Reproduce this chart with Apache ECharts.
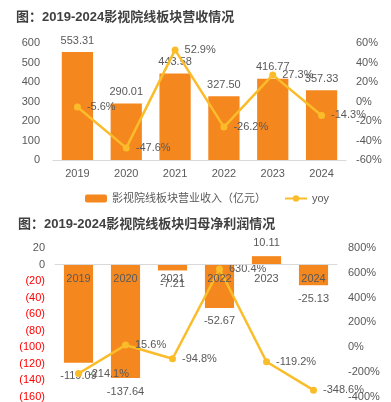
<!DOCTYPE html>
<html>
<head>
<meta charset="utf-8">
<script src="https://cdn.jsdelivr.net/npm/echarts@6/dist/echarts.min.js"></script>
<style>
    html, body { margin: 0; padding: 0; background: #fff; }
    #chart { width: 391px; height: 402px; }
</style>
</head>
<body>
<div id="chart"></div>
<script>
    var years = ['2019', '2020', '2021', '2022', '2023', '2024'];
    var revenue = [553.31, 290.01, 443.58, 327.50, 416.77, 357.33];
    var revenueYoy = [-5.6, -47.6, 52.9, -26.2, 27.3, -14.3];
    var profit = [-119.09, -137.64, -7.21, -52.67, 10.11, -25.13];
    var profitYoy = [-214.1, 15.6, -94.8, 630.4, -119.2, -348.6];

    var barColor = '#F5871F';
    var lineColor = '#FBBC2A';
    var textColor = '#595959';
    var font = '"Liberation Sans", Arial, "Noto Sans CJK SC", sans-serif';

    // 下图网格：0 线位置
    var g2Top = 248, g2Height = 149;
    var zeroOffset = g2Height * 160 / 180;

    var chart = echarts.init(document.getElementById('chart'));

    function barData(arr) {
        return arr.map(function (v) {
            return {
                value: v,
                label: { position: v < 0 ? 'bottom' : 'top' }
            };
        });
    }

    var option = {
        animation: false,
        textStyle: { fontFamily: font },
        title: [
            {
                text: '图：2019-2024影视院线板块营收情况',
                left: 11, top: 6,
                textStyle: { fontSize: 13, fontWeight: 'bold', color: '#404040', fontFamily: font }
            },
            {
                text: '图：2019-2024影视院线板块归母净利润情况',
                left: 13, top: 213,
                textStyle: { fontSize: 13, fontWeight: 'bold', color: '#404040', fontFamily: font }
            }
        ],
        legend: {
            top: 188,
            left: 80,
            itemGap: 18,
            itemWidth: 22,
            itemHeight: 8,
            textStyle: { fontSize: 11, color: textColor, fontFamily: font },
            data: ['影视院线板块营业收入（亿元）', 'yoy']
        },
        grid: [
            { left: 53, right: 45, top: 43, height: 117 },
            { left: 55, right: 54, top: g2Top, height: g2Height }
        ],
        xAxis: [
            {
                type: 'category', gridIndex: 0, data: years,
                axisLine: { lineStyle: { color: '#D9D9D9' } },
                axisTick: { show: false },
                axisLabel: { fontSize: 11, color: textColor, margin: 8 }
            },
            {
                type: 'category', gridIndex: 1, data: years,
                position: 'bottom',
                offset: -zeroOffset,
                z: 10,
                axisLine: { onZero: false, lineStyle: { color: '#D9D9D9' } },
                axisTick: { show: false },
                axisLabel: { fontSize: 11, color: textColor, margin: 9 }
            }
        ],
        yAxis: [
            {
                type: 'value', gridIndex: 0, min: 0, max: 600, interval: 100,
                splitLine: { show: false },
                axisLabel: { fontSize: 11, color: textColor, margin: 13 }
            },
            {
                type: 'value', gridIndex: 0, min: -60, max: 60, interval: 20,
                splitLine: { show: false },
                axisLabel: { fontSize: 11, color: textColor, margin: 10, formatter: '{value}%' }
            },
            {
                type: 'value', gridIndex: 1, min: -160, max: 20, interval: 20,
                splitLine: { show: false },
                axisLabel: {
                    fontSize: 11, margin: 10,
                    formatter: function (v) { return v < 0 ? '(' + (-v) + ')' : v; },
                    color: function (v) { return v < 0 ? '#FF0000' : textColor; }
                }
            },
            {
                type: 'value', gridIndex: 1, min: -400, max: 800, interval: 200,
                splitLine: { show: false },
                axisLabel: { fontSize: 11, color: textColor, margin: 11, formatter: '{value}%' }
            }
        ],
        series: [
            {
                name: '影视院线板块营业收入（亿元）',
                type: 'bar', xAxisIndex: 0, yAxisIndex: 0,
                barWidth: '64%',
                data: revenue,
                itemStyle: { color: barColor },
                label: {
                    show: true, position: 'top', distance: 6,
                    fontSize: 11, color: textColor,
                    formatter: function (p) { return p.value.toFixed(2); }
                }
            },
            {
                name: 'yoy',
                type: 'line', xAxisIndex: 0, yAxisIndex: 1,
                data: revenueYoy,
                symbol: 'circle', symbolSize: 7,
                lineStyle: { color: lineColor, width: 2.5 },
                itemStyle: { color: lineColor },
                label: {
                    show: true, position: 'right', distance: 6,
                    fontSize: 11, color: textColor,
                    formatter: function (p) { return p.value.toFixed(1) + '%'; }
                }
            },
            {
                name: '归母净利润',
                type: 'bar', xAxisIndex: 1, yAxisIndex: 2,
                barWidth: '62%',
                data: barData(profit),
                itemStyle: { color: barColor },
                label: {
                    show: true, distance: 8,
                    fontSize: 11, color: textColor,
                    formatter: function (p) { return p.value.toFixed(2); }
                }
            },
            {
                name: '归母净利润yoy',
                type: 'line', xAxisIndex: 1, yAxisIndex: 3,
                data: profitYoy,
                symbol: 'circle', symbolSize: 7,
                lineStyle: { color: lineColor, width: 2.5 },
                itemStyle: { color: lineColor },
                label: {
                    show: true, position: 'right', distance: 6,
                    fontSize: 11, color: textColor,
                    formatter: function (p) { return p.value.toFixed(1) + '%'; }
                }
            }
        ]
    };

    chart.setOption(option);
</script>
</body>
</html>
